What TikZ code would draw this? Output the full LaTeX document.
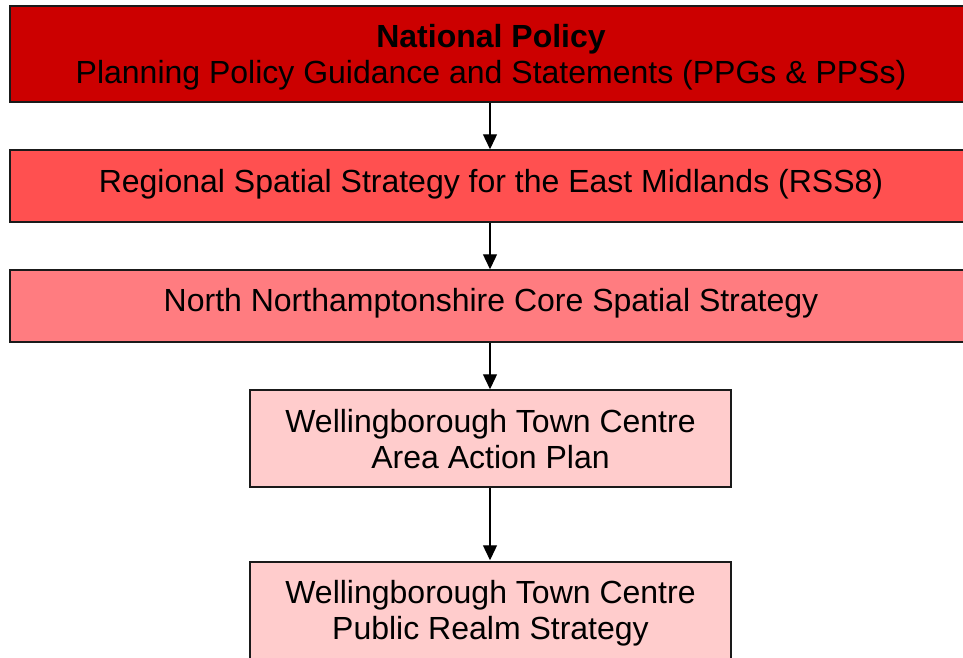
\documentclass[tikz,border=0pt]{standalone}
\usepackage{fontspec}
\setmainfont{Liberation Sans}
\usetikzlibrary{arrows.meta}
\definecolor{cNat}{HTML}{CC0000}
\definecolor{cReg}{HTML}{FF5050}
\definecolor{cCore}{HTML}{FF7C80}
\definecolor{cLoc}{HTML}{FFCCCC}
\definecolor{cEdge}{HTML}{1A1A1A}
\tikzset{
  txt/.style={font=\fontsize{32}{36}\selectfont, align=center, text=black, inner sep=0pt},
  box/.style={draw=cEdge, line width=1.5pt, rectangle, inner sep=0pt, align=center,
    font=\fontsize{32}{36}\selectfont, text=black},
  widebox/.style={box, minimum width=960pt, minimum height=72pt},
  smallbox/.style={box, minimum width=481pt, minimum height=97pt},
  conn/.style={line width=1.3pt, -{Triangle[length=15pt,width=14pt]}}
}
\begin{document}
\begin{tikzpicture}[x=1pt,y=-1pt]
\useasboundingbox (0,0) rectangle (963,657);
\clip (0,0) rectangle (963,657);
\node[widebox, fill=cNat, minimum height=96pt] (nat) at (490,54) {};
\node[txt] (natt) at (491,57) {\textbf{National Policy}\\Planning Policy Guidance and Statements (PPGs \& PPSs)};
\node[widebox, fill=cReg] (reg) at (490,186) {};
\node[txt] (regt) at (491,184) {Regional Spatial Strategy for the East Midlands (RSS8)};
\node[widebox, fill=cCore] (core) at (490,306) {};
\node[txt] (coret) at (491,303) {North Northamptonshire Core Spatial Strategy};
\node[smallbox, fill=cLoc] (aap) at (490.5,438.5) {};
\node[txt] (aapt) at (490.5,439) {Wellingborough Town Centre\\Area Action Plan};
\node[smallbox, fill=cLoc] (prs) at (490.5,610.5) {};
\node[txt] (prst) at (490.5,613) {Wellingborough Town Centre\\Public Realm Strategy};
\draw[conn] (nat.south -| 490,0) -- (reg.north -| 490,0);
\draw[conn] (reg.south -| 490,0) -- (core.north -| 490,0);
\draw[conn] (core.south -| 490,0) -- (aap.north -| 490,0);
\draw[conn] (aap.south -| 490,0) -- ([yshift=1pt]prs.north -| 490,0);
\end{tikzpicture}
\end{document}
